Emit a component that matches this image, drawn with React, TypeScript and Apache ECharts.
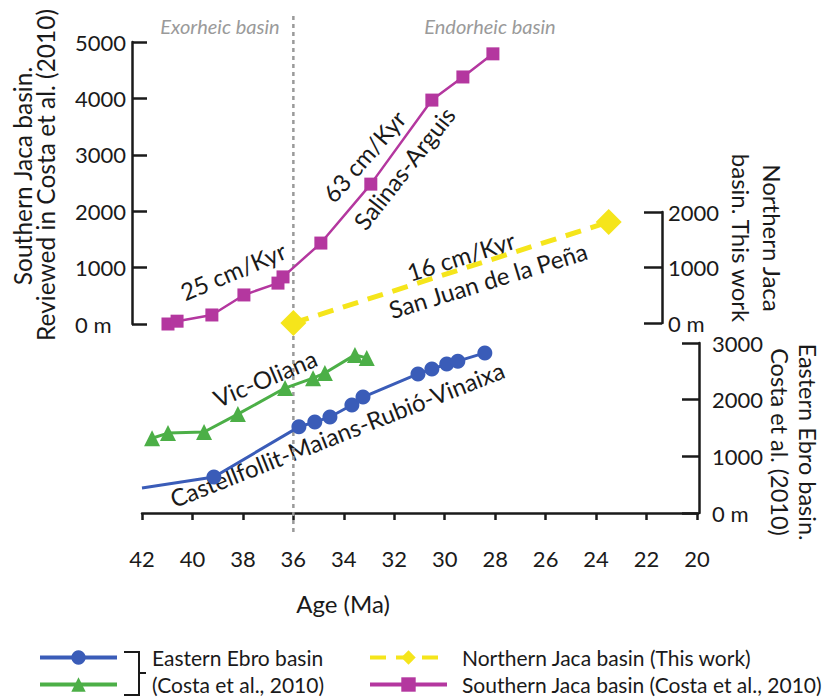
import React, { useEffect, useRef } from "react";
import * as echarts from "echarts";

// ---------------- data ----------------
const ageMin = 20;
const ageMax = 42;
const ageInterval = 2;

// Southern Jaca basin (Salinas-Arguis section), Costa et al. (2010)
const southernAge = [40.97, 40.61, 39.23, 37.96, 36.61, 36.41, 34.91, 32.93, 30.51, 29.28, 28.09];
const southernThickness = [0, 50, 160, 515, 725, 835, 1435, 2480, 3970, 4380, 4790];

// Northern Jaca basin (San Juan de la Peña), this work
const northernAge = [36.0, 23.5];
const northernThickness = [0, 1820];

// Eastern Ebro basin: Castellfollit-Maians-Rubió-Vinaixa
const castellAge = [42.0, 39.15, 35.78, 35.15, 34.55, 33.68, 33.24, 31.06, 30.51, 29.92, 29.48, 28.41];
const castellThickness = [440, 635, 1520, 1605, 1695, 1905, 2045, 2455, 2540, 2630, 2680, 2825];

// Eastern Ebro basin: Vic-Oliana
const vicAge = [41.6, 40.97, 39.54, 38.2, 36.33, 35.22, 34.75, 33.56, 33.09];
const vicThickness = [1320, 1410, 1430, 1745, 2205, 2380, 2470, 2790, 2735];

const southTickLabels = ["0 m", "1000", "2000", "3000", "4000", "5000"];
const northTickLabels = ["0 m", "1000", "2000"];
const eastTickLabels = ["0 m", "1000", "2000", "3000"];

const basinBoundaryAge = 36;

const southernName = "Southern Jaca basin (Costa et al., 2010)";
const northernName = "Northern Jaca basin (This work)";
const castellName = "Castellfollit-Maians-Rubió-Vinaixa";
const vicName = "Vic-Oliana";
const legendLabels: Record<string, string> = {
  [castellName]: "Eastern Ebro basin",
  [vicName]: "(Costa et al., 2010)",
  [northernName]: northernName,
  [southernName]: southernName,
};

// ---------------- style ----------------
const FONT = "Lato, 'Open Sans', sans-serif";
const INK = "#1a1a1a";
const MAG = "#b4379f";
const YEL = "#f5e51b";
const BLUE = "#3a5cb8";
const GREEN = "#4caf47";
const GRAY = "#9a9a9a";

const GRID_LEFT = 142;
const GRID_RIGHT = 824 - 697;

export default function App() {
  const ref = useRef<HTMLDivElement>(null);

  useEffect(() => {
    if (!ref.current) return;
    const chart = echarts.init(ref.current, null, { renderer: "svg" });

    const xBase: any = {
      type: "value",
      min: ageMin,
      max: ageMax,
      interval: ageInterval,
      inverse: true,
      splitLine: { show: false },
    };

    const yLabel = (labels: string[], step: number) => (v: number) =>
      labels[Math.round(v / step)] ?? String(v);

    const axisBlack = { show: true, lineStyle: { color: INK, width: 2.5 } };

    const txt = (
      text: string,
      x: number,
      y: number,
      deg: number,
      size: number,
      extra: any = {}
    ) => ({
      type: "text",
      x,
      y,
      rotation: (deg * Math.PI) / 180,
      silent: true,
      style: {
        text,
        fill: extra.fill ?? INK,
        font: `${extra.italic ? "italic " : ""}${size}px ${FONT}`,
        align: "center",
        verticalAlign: "middle",
      },
    });

    const legendBase: any = {
      orient: "vertical",
      top: 647,
      height: 60,
      padding: 0,
      itemWidth: 77,
      itemHeight: 18,
      itemGap: 6,
      selectedMode: false,
      lineStyle: { width: 4 },
      formatter: (n: string) => legendLabels[n],
    };

    const option: any = {
      animation: false,
      backgroundColor: "#ffffff",
      grid: [
        { left: GRID_LEFT, right: GRID_RIGHT, top: 42, height: 282 },
        { left: GRID_LEFT, right: GRID_RIGHT, top: 212, height: 111 },
        { left: GRID_LEFT, right: GRID_RIGHT, top: 343, height: 170 },
        { left: GRID_LEFT, right: GRID_RIGHT, top: 15, height: 517 },
      ],
      xAxis: [
        { ...xBase, gridIndex: 0, show: false },
        { ...xBase, gridIndex: 1, show: false },
        {
          ...xBase,
          gridIndex: 2,
          position: "bottom",
          offset: 19,
          axisLine: axisBlack,
          axisTick: { show: true, length: 7, lineStyle: { color: INK, width: 2.5 } },
          axisLabel: { fontFamily: FONT, fontSize: 22, color: INK, margin: 15 },
        },
        { ...xBase, gridIndex: 3, show: false },
      ],
      yAxis: [
        {
          gridIndex: 0,
          type: "value",
          min: 0,
          max: 5000,
          interval: 1000,
          position: "left",
          offset: 10,
          axisLine: axisBlack,
          axisTick: { show: true, inside: true, length: 15, lineStyle: { color: INK, width: 2.5 } },
          axisLabel: {
            fontFamily: FONT,
            fontSize: 22,
            color: INK,
            align: "left",
            margin: 57,
            formatter: yLabel(southTickLabels, 1000),
          },
          splitLine: { show: false },
        },
        {
          gridIndex: 1,
          type: "value",
          min: 0,
          max: 2000,
          interval: 1000,
          position: "right",
          offset: -35,
          axisLine: axisBlack,
          axisTick: { show: true, inside: true, length: 18, lineStyle: { color: INK, width: 2.5 } },
          axisLabel: {
            fontFamily: FONT,
            fontSize: 22,
            color: INK,
            margin: 6,
            formatter: yLabel(northTickLabels, 1000),
          },
          splitLine: { show: false },
        },
        {
          gridIndex: 2,
          type: "value",
          min: 0,
          max: 3000,
          interval: 1000,
          position: "right",
          offset: 2,
          axisLine: axisBlack,
          axisTick: { show: true, inside: true, length: 17, lineStyle: { color: INK, width: 2.5 } },
          axisLabel: {
            fontFamily: FONT,
            fontSize: 22,
            color: INK,
            margin: 13,
            formatter: yLabel(eastTickLabels, 1000),
          },
          splitLine: { show: false },
        },
        { gridIndex: 3, type: "value", min: 0, max: 1, show: false },
      ],
      legend: [
        {
          ...legendBase,
          data: [castellName, vicName],
          left: 38,
          textStyle: { fontFamily: FONT, fontSize: 21, color: INK, padding: [0, 0, 0, 30] },
        },
        {
          ...legendBase,
          data: [northernName, southernName],
          left: 368,
          textStyle: { fontFamily: FONT, fontSize: 21, color: INK, padding: [0, 0, 0, 10] },
        },
      ],
      series: [
        {
          name: "boundary",
          type: "line",
          xAxisIndex: 3,
          yAxisIndex: 3,
          data: [
            [basinBoundaryAge, 0],
            [basinBoundaryAge, 1],
          ],
          symbol: "none",
          silent: true,
          z: 1,
          lineStyle: { color: GRAY, width: 2.5, type: [4, 4] },
        },
        {
          name: southernName,
          type: "line",
          xAxisIndex: 0,
          yAxisIndex: 0,
          data: southernAge.map((a, i) => [a, southernThickness[i]]),
          symbol: "rect",
          symbolSize: 13,
          z: 3,
          lineStyle: { color: MAG, width: 2.5 },
          itemStyle: { color: MAG },
        },
        {
          name: northernName,
          type: "line",
          xAxisIndex: 1,
          yAxisIndex: 1,
          data: northernAge.map((a, i) => [a, northernThickness[i]]),
          symbol: "diamond",
          symbolSize: 26,
          z: 3,
          lineStyle: { color: YEL, width: 5, type: [16, 10] },
          itemStyle: { color: YEL },
        },
        {
          name: castellName,
          type: "line",
          xAxisIndex: 2,
          yAxisIndex: 2,
          data: castellAge.map((a, i) =>
            i === 0
              ? { value: [a, castellThickness[i]], symbol: "none" }
              : [a, castellThickness[i]]
          ),
          symbol: "circle",
          symbolSize: 15,
          z: 3,
          lineStyle: { color: BLUE, width: 3 },
          itemStyle: { color: BLUE },
        },
        {
          name: vicName,
          type: "line",
          xAxisIndex: 2,
          yAxisIndex: 2,
          data: vicAge.map((a, i) => [a, vicThickness[i]]),
          symbol: "triangle",
          symbolSize: 16,
          z: 3,
          lineStyle: { color: GREEN, width: 3 },
          itemStyle: { color: GREEN },
        },
      ],
      graphic: [
        // axis names
        txt("Southern Jaca basin.", 22, 176, 90, 24.5),
        txt("Reviewed in Costa et al. (2010)", 45, 175, 90, 24.5),
        txt("Northern Jaca", 772, 238, -90, 24),
        txt("basin. This work", 741, 238, -90, 24),
        txt("Eastern Ebro basin.", 808, 442, -90, 23.5),
        txt("Costa et al. (2010)", 780, 442, -90, 23.5),
        txt("Age (Ma)", 343, 603, 0, 24),
        // basin type headers
        txt("Exorheic basin", 220, 26, 0, 20, { italic: true, fill: GRAY }),
        txt("Endorheic basin", 490, 26, 0, 20, { italic: true, fill: GRAY }),
        // annotations
        txt("25 cm/Kyr", 233, 271, 23, 24),
        txt("63 cm/Kyr", 364, 156, 49, 24),
        txt("Salinas-Arguis", 404, 168, 52, 24),
        txt("16 cm/Kyr", 461, 256, 17.5, 24),
        txt("San Juan de la Peña", 488, 280, 17, 24),
        txt("Vic-Oliana", 265, 378, 23, 24),
        txt("Castellfollit-Maians-Rubió-Vinaixa", 337, 434, 21.5, 24),
        // legend bracket
        {
          type: "polyline",
          silent: true,
          shape: {
            points: [
              [124, 652],
              [139, 652],
              [139, 695],
              [124, 695],
            ],
          },
          style: { stroke: INK, lineWidth: 2, fill: "none" },
        },
        {
          type: "line",
          silent: true,
          shape: { x1: 139, y1: 673, x2: 146, y2: 673 },
          style: { stroke: INK, lineWidth: 2 },
        },
      ],
    };

    chart.setOption(option);
    return () => chart.dispose();
  }, []);

  return (
    <div
      ref={ref}
      style={{ position: "fixed", left: 0, top: 0, width: 824, height: 698, background: "#fff" }}
    />
  );
}
